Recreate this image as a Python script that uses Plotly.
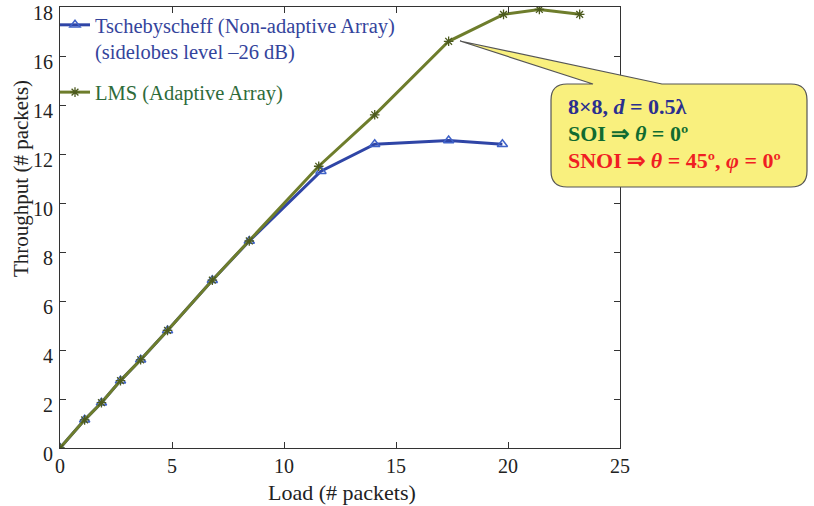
import plotly.graph_objects as go

# ---- data ----
x_tsch = [0, 1.1, 1.85, 2.7, 3.6, 4.8, 6.8, 8.45, 11.65, 14.05, 17.35, 19.75]
y_tsch = [0, 1.15, 1.85, 2.75, 3.6, 4.8, 6.85, 8.45, 11.3, 12.4, 12.55, 12.4]
x_lms = [0, 1.1, 1.85, 2.7, 3.6, 4.8, 6.8, 8.45, 11.55, 14.05, 17.35, 19.8, 21.4, 23.2]
y_lms = [0, 1.15, 1.85, 2.75, 3.6, 4.8, 6.85, 8.45, 11.5, 13.6, 16.6, 17.7, 17.9, 17.7]
x_ticks = [0, 5, 10, 15, 20, 25]
y_ticks = [0, 2, 4, 6, 8, 10, 12, 14, 16, 18]

name_tsch = ('<span style="color:#34449c">Tschebyscheff (Non-adaptive Array)<br>'
             '(sidelobes level \u201326 dB)</span>')
name_lms = '<span style="color:#2e6b3a">LMS (Adaptive Array)</span>'

FONT = "Liberation Serif"
W, H = 814, 506
L, R, T, B = 60, 620, 7, 448


def px(xp):
    return (xp - L) / (R - L)


def py(yp):
    return (B - yp) / (B - T)


fig = go.Figure()
fig.add_trace(go.Scatter(
    x=x_tsch, y=y_tsch, mode="lines+markers", name=name_tsch,
    legendgroup="a",
    line=dict(color="#2f45a6", width=3),
    marker=dict(symbol="triangle-up-open", size=9,
                line=dict(color="#3f62c8", width=1.5), color="#3f62c8"),
))
fig.add_trace(go.Scatter(
    x=x_lms, y=y_lms, mode="lines+markers", name=name_lms,
    legendgroup="b",
    line=dict(color="#6e7d2c", width=3),
    marker=dict(symbol="asterisk-open", size=8,
                line=dict(color="#4c5a1e", width=1.3), color="#4c5a1e"),
))

# callout balloon (pixel geometry converted to paper coords)
bl, br, bt, bb, r = 551, 807, 84, 187, 16
tipx, tipy = 460, 41
pts = [
    ("M", [(bl, bt + r)]),
    ("Q", [(bl, bt), (bl + r, bt)]),
    ("L", [(593, bt)]),
    ("L", [(tipx, tipy)]),
    ("L", [(662, bt)]),
    ("L", [(br - r, bt)]),
    ("Q", [(br, bt), (br, bt + r)]),
    ("L", [(br, bb - r)]),
    ("Q", [(br, bb), (br - r, bb)]),
    ("L", [(bl + r, bb)]),
    ("Q", [(bl, bb), (bl, bb - r)]),
]
path = ""
for cmd, cs in pts:
    path += cmd + " " + " ".join(f"{px(a):.5f},{py(b):.5f}" for a, b in cs) + " "
path += "Z"
fig.add_shape(type="path", path=path, xref="paper", yref="paper",
              fillcolor="#f9f07e", line=dict(color="#555555", width=1.2),
              layer="above")

lines = [
    ("<b>8\u00d78, <i>d</i> = 0.5\u03bb</b>", "#2b2f8f", 106),
    ("<b>SOI \u21d2 <i>\u03b8</i> = 0\u00ba</b>", "#106b30", 133),
    ("<b>SNOI \u21d2 <i>\u03b8</i> = 45\u00ba, <i>\u03c6</i> = 0\u00ba</b>", "#f01e23", 160),
]
for txt, col, yy in lines:
    fig.add_annotation(text=txt, x=px(566), y=py(yy), xref="paper", yref="paper",
                       xanchor="left", yanchor="middle", showarrow=False,
                       font=dict(family=FONT, size=22, color=col))

# axis titles placed like the reference
fig.add_annotation(text="Throughput (# packets)", x=px(21), y=py(179),
                   xref="paper", yref="paper", textangle=-90,
                   xanchor="center", yanchor="middle", showarrow=False,
                   font=dict(family=FONT, size=21, color="#222222"))
fig.add_annotation(text="Load (# packets)", x=px(342), y=py(492),
                   xref="paper", yref="paper",
                   xanchor="center", yanchor="middle", showarrow=False,
                   font=dict(family=FONT, size=22, color="#222222"))

axis_common = dict(
    showline=True, linecolor="#333333", linewidth=1,
    ticks="inside", ticklen=6, tickcolor="#333333", mirror="ticks",
    showgrid=False, zeroline=False, automargin=False,
    ticklabeloverflow="allow",
    tickfont=dict(family=FONT, size=20, color="#222222"),
)
fig.update_layout(
    width=W, height=H,
    margin=dict(l=L, r=W - R, t=T, b=H - B, autoexpand=False),
    paper_bgcolor="white", plot_bgcolor="white",
    xaxis=dict(range=[0, 25], tickvals=x_ticks, ticktext=[str(v) for v in x_ticks],
               **axis_common),
    yaxis=dict(range=[0, 18], tickvals=y_ticks, ticktext=[str(v) for v in y_ticks],
               ticklabelshift=6, ticklabelstandoff=2,
               **axis_common),
    legend=dict(x=px(55), y=py(5), xanchor="left", yanchor="top",
                bgcolor="rgba(0,0,0,0)", traceorder="grouped", tracegroupgap=11,
                valign="top",
                font=dict(family=FONT, size=20.5)),
    showlegend=True,
)

fig.write_html("out.html",
               config={"displayModeBar": False},
               post_script="document.body.style.margin='0';"
                           "document.body.style.overflow='hidden';")
